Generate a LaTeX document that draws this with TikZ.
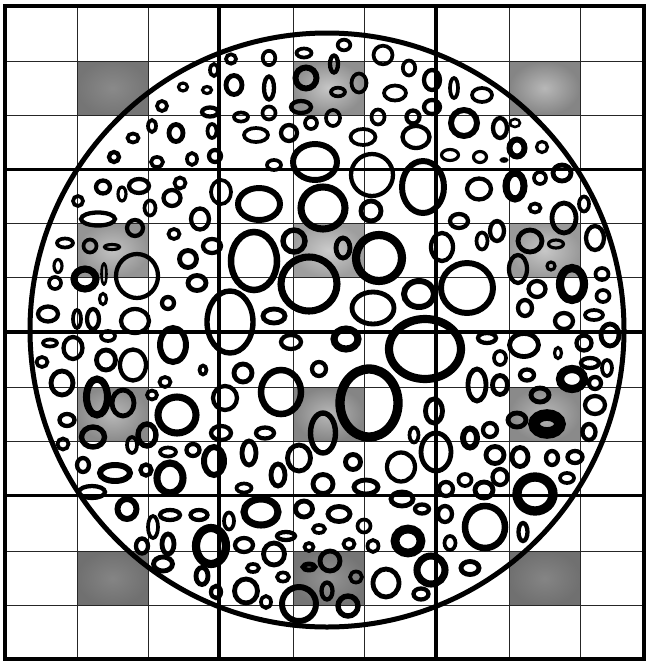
\documentclass[tikz,border=0pt]{standalone}
\begin{document}
\newcommand\elp[5]{\draw[line width=1.12*#5pt+0.35pt] (#1,#2) ellipse [x radius=#3pt, y radius=#4pt];}
\newcommand\cellshade[6]{\shade[inner color=black!#5, outer color=black!#6] (#1,#2) rectangle (#3,#4);}
\begin{tikzpicture}[x=1pt,y=-1pt]
\useasboundingbox (0,0) rectangle (648,662);
\fill[white] (0,0) rectangle (648,662);
% shaded cells
\cellshade{77}{61}{148}{115}{46}{54}
\cellshade{293}{61}{364}{115}{22}{44}
\cellshade{509}{61}{580}{115}{28}{48}
\cellshade{77}{223.5}{148}{277.5}{24}{42}
\cellshade{293}{223.5}{364}{277.5}{20}{38}
\cellshade{509}{223.5}{580}{277.5}{22}{40}
\cellshade{77}{387}{148}{441.5}{28}{46}
\cellshade{293}{387}{364}{441.5}{28}{48}
\cellshade{509}{387}{580}{441.5}{28}{46}
\cellshade{77}{551}{148}{605.5}{48}{56}
\cellshade{293}{551}{364}{605.5}{42}{54}
\cellshade{509}{551}{580}{605.5}{48}{56}
% thin grid
\begin{scope}[line width=1pt, black!85]
\foreach \gx in {77,148,293,364,509,580} \draw (\gx,5.5) -- (\gx,659);
\foreach \gy in {61,115,223.5,277.5,387,441.5,551,605.5} \draw (5,\gy) -- (644,\gy);
\end{scope}
% thick grid
\begin{scope}[line width=3.2pt]
\foreach \gx in {219,436} \draw (\gx,5.5) -- (\gx,659);
\foreach \gy in {169.5,332,495.5} \draw (5,\gy) -- (644,\gy);
\end{scope}
\draw[line width=4pt] (5,5.5) rectangle (644,659);
% big circle
\draw[line width=5pt] (327,330) circle [radius=297pt];
% ellipses: x, y, rx, ry, line width
\elp{183}{87}{4.5}{4}{2.5}
\elp{207}{90}{4.5}{3.5}{2.5}
\elp{214}{70}{4}{6}{3}
\elp{162}{106}{5}{5}{3}
\elp{210}{112}{8}{4.5}{3.5}
\elp{152}{126}{4}{6}{3}
\elp{176}{133}{7}{8.5}{4}
\elp{133}{138}{5.5}{4.5}{3}
\elp{212}{131}{4.5}{7}{3}
\elp{114}{157}{5}{5}{3.5}
\elp{157}{162}{6}{5}{3}
\elp{192}{159}{5}{6}{3}
\elp{215}{156}{6}{6}{3.5}
\elp{231}{59}{5}{4.7}{3}
\elp{269}{58}{6.3}{7.2}{3}
\elp{304}{53}{7.5}{4.5}{3}
\elp{344}{45}{6.3}{5.3}{3}
\elp{334}{64}{4}{8.5}{3.5}
\elp{383}{55}{9.5}{9.3}{3}
\elp{409}{68}{6.2}{7.5}{3}
\elp{432}{80}{8}{10}{3.5}
\elp{234}{85}{8}{9.5}{4}
\elp{269}{88}{5}{11.5}{3.5}
\elp{306}{78}{10.5}{10.5}{5}
\elp{338}{92}{7}{4.3}{3}
\elp{359}{83}{7.5}{9.5}{3}
\elp{395}{93}{11}{7.5}{3}
\elp{301}{107}{10}{6}{3.5}
\elp{432}{107}{8}{7}{3.5}
\elp{241}{117}{7}{4.5}{3}
\elp{269}{113}{6.5}{6.5}{3}
\elp{333}{118}{7}{8}{3}
\elp{311}{123}{6}{6}{3}
\elp{378}{117}{6.5}{7.5}{3}
\elp{413}{117}{6.5}{6.5}{3.5}
\elp{256}{135}{12}{7}{3}
\elp{289}{133}{8}{8}{3.5}
\elp{363}{137}{12.5}{8}{3}
\elp{416}{137}{13.5}{11}{3.5}
\elp{274}{165}{7}{5}{3}
\elp{454}{88}{4}{10}{3}
\elp{482}{95}{10}{7}{3}
\elp{464}{123}{13}{13}{5}
\elp{500}{128}{7}{10}{3.5}
\elp{515}{123}{5}{4}{2}
\elp{517}{148}{7.5}{8.5}{5}
\elp{542}{147}{5.5}{5.5}{2.5}
\elp{450}{155}{8.5}{5.5}{2.5}
\elp{480}{157}{6.5}{5.5}{2.5}
\elp{504}{160}{3}{1.5}{2}
\elp{78}{201}{5}{5}{3}
\elp{103}{187}{7}{6.5}{3.5}
\elp{122}{194}{4}{7}{2.5}
\elp{139}{186}{10}{7}{3.5}
\elp{150}{208}{5.5}{7.5}{3}
\elp{172}{198}{8.5}{8}{3.5}
\elp{180}{183}{5.5}{5.5}{3}
\elp{98}{219}{17}{6.5}{3.5}
\elp{135}{228}{8}{8}{3.5}
\elp{200}{219}{9}{10.5}{3.5}
\elp{174}{234}{5.5}{5}{3}
\elp{65}{243}{8}{4.5}{3}
\elp{90}{246}{6.5}{6.5}{3}
\elp{112}{247}{7.5}{2.5}{2.5}
\elp{212}{246}{9}{7}{3.5}
\elp{188}{259}{8.5}{8.5}{4}
\elp{58}{266}{4}{6.5}{2.5}
\elp{85}{279}{11}{10}{6}
\elp{104}{274}{2.5}{10.5}{2}
\elp{137}{276}{21}{22}{3.5}
\elp{55}{283}{6}{6}{3}
\elp{197}{283}{9}{7.5}{4}
\elp{103}{299}{3.5}{5.5}{2.5}
\elp{168}{303}{6}{6}{3.5}
\elp{48}{314}{10}{7.5}{3.5}
\elp{77}{319}{4}{9}{3}
\elp{93}{319}{6}{10}{3.5}
\elp{135}{321}{14}{12}{3.5}
\elp{230}{322}{23}{31}{4.5}
\elp{221}{192}{10}{12}{3}
\elp{259}{204}{21}{16}{5}
\elp{323}{208}{22}{21}{6}
\elp{315}{162}{22}{18}{5}
\elp{372}{175}{21}{21}{3.5}
\elp{371}{211}{10}{10}{4}
\elp{423}{187}{21}{26}{5}
\elp{294}{241}{11}{11}{4.5}
\elp{343}{248}{7}{10}{4}
\elp{254}{261}{23}{29}{5.5}
\elp{379}{258}{23}{23}{7}
\elp{442}{247}{11}{14}{3.5}
\elp{309}{284}{28}{27}{6}
\elp{373}{308}{21}{16}{4}
\elp{419}{294}{15}{13}{5}
\elp{274}{316}{11}{7}{4}
\elp{346}{339}{12}{10}{6}
\elp{425}{349}{36}{30}{7}
\elp{479}{189}{12}{10.5}{3.5}
\elp{515}{186}{9}{13}{6}
\elp{540}{178}{6}{6}{3}
\elp{562}{173}{9}{8}{4}
\elp{584}{204}{5}{7.5}{3}
\elp{535}{208}{5.5}{4.5}{3}
\elp{564}{218}{12}{15}{4}
\elp{459}{221}{9}{7}{3.5}
\elp{482}{241}{5.5}{8.5}{3}
\elp{497}{231}{7}{10}{3.5}
\elp{530}{241}{12}{11}{4}
\elp{556}{244}{7.5}{4}{2.5}
\elp{595}{238}{9}{12}{3.5}
\elp{518}{269}{9}{14}{3.5}
\elp{551}{266}{4}{4}{2.5}
\elp{572}{284}{12}{16}{7}
\elp{467}{288}{26}{25}{5}
\elp{602}{274}{6.5}{6}{3}
\elp{537}{289}{8.5}{8}{3.5}
\elp{603}{296}{6.5}{6}{3}
\elp{525}{308}{7}{8}{3.5}
\elp{594}{315}{9}{5}{3}
\elp{564}{321}{9}{8}{3.5}
\elp{610}{335}{9}{11}{4}
\elp{50}{343}{7}{3.5}{3}
\elp{73}{348}{9.5}{11}{3.5}
\elp{108}{336}{7}{5}{3}
\elp{42}{362}{5.5}{5}{3}
\elp{106}{360}{9.5}{10}{4}
\elp{133}{365}{13}{15.5}{3.5}
\elp{62}{383}{11}{12}{4}
\elp{173}{345}{13}{17}{5}
\elp{203}{370}{3.5}{4.5}{3}
\elp{165}{382}{5.5}{5}{3}
\elp{97}{397}{10.5}{18}{6}
\elp{123}{403}{11}{13}{4}
\elp{152}{395}{5}{4.5}{3}
\elp{177}{415}{19}{18}{6}
\elp{225}{398}{12}{12}{3.5}
\elp{67}{420}{7.5}{6}{3.5}
\elp{93}{437}{11.5}{10}{4.5}
\elp{132}{445}{5}{8}{3}
\elp{147}{435}{9}{11}{4.5}
\elp{63}{444}{5.5}{5.5}{3}
\elp{168}{452}{8}{4.5}{3}
\elp{193}{450}{6.5}{6}{3.5}
\elp{83}{465}{6}{7}{3.5}
\elp{115}{473}{15}{8}{5}
\elp{146}{470}{5.5}{5.5}{3.5}
\elp{170}{478}{13}{15}{6}
\elp{214}{461}{10}{14}{5}
\elp{92}{492}{13}{6}{3.5}
\elp{291}{342}{10}{7}{3.5}
\elp{243}{373}{9}{9}{4}
\elp{319}{369}{7}{7}{3.5}
\elp{281}{392}{20}{22}{5.5}
\elp{323}{433}{12.5}{20}{4.5}
\elp{369}{403}{29}{34}{8}
\elp{434}{411}{8.5}{12}{4}
\elp{221}{433}{10}{7}{3.5}
\elp{265}{433}{9}{5.5}{3.5}
\elp{414}{435}{4.5}{7.5}{3}
\elp{436}{452}{15}{19}{4}
\elp{249}{453}{7}{12}{4}
\elp{299}{458}{11.5}{13}{4}
\elp{353}{462}{7.5}{7.5}{4}
\elp{401}{467}{14}{14.5}{3.5}
\elp{278}{475}{7}{11}{4}
\elp{244}{488}{7.5}{4.5}{3}
\elp{323}{484}{10}{9.5}{4}
\elp{366}{487}{12}{7}{4}
\elp{402}{499}{11}{7}{4}
\elp{487}{338}{9}{5}{3.5}
\elp{524}{345}{14.5}{11.5}{4}
\elp{558}{353}{3.5}{5.5}{2.5}
\elp{584}{343}{7.5}{7.5}{3.5}
\elp{500}{358}{6}{7}{3}
\elp{590}{363}{9}{5}{3.5}
\elp{607}{368}{5}{8}{3}
\elp{477}{385}{9}{16}{4}
\elp{500}{385}{7.5}{9.5}{4}
\elp{527}{375}{7}{5.5}{3.5}
\elp{572}{379}{12}{10}{7}
\elp{595}{383}{6}{6}{3.5}
\elp{540}{395}{9}{7}{4}
\elp{595}{405}{10}{9}{3.5}
\elp{517}{420}{9}{7}{4}
\elp{547}{424}{13}{9}{10}
\elp{589}{432}{6.5}{8}{3.5}
\elp{470}{438}{7}{9.5}{5}
\elp{490}{430}{7}{7}{3.5}
\elp{495}{455}{9}{8.5}{4}
\elp{520}{457}{8}{9.5}{4}
\elp{552}{458}{6}{7}{3.5}
\elp{575}{457}{7.5}{6}{3.5}
\elp{465}{480}{6.5}{6}{3}
\elp{500}{477}{7.5}{8}{3.5}
\elp{567}{478}{7}{5}{3}
\elp{446}{489}{7}{7}{3.5}
\elp{484}{490}{9}{8}{4}
\elp{535}{494}{18}{17}{8}
\elp{127}{509}{9.5}{10}{5}
\elp{153}{527}{5}{11}{3}
\elp{170}{515}{10}{5}{3.5}
\elp{199}{515}{8.5}{5}{3.5}
\elp{211}{546}{15}{18}{7}
\elp{142}{546}{6}{7.5}{3.5}
\elp{168}{544}{6}{10}{4}
\elp{163}{564}{9.5}{7}{4}
\elp{202}{576}{6}{8.5}{4}
\elp{216}{592}{5}{6}{3.5}
\elp{229}{521}{5}{8.5}{3}
\elp{261}{512}{17}{13}{6}
\elp{304}{509}{8.5}{8}{4}
\elp{339}{514}{11}{7.5}{4}
\elp{364}{526}{6.5}{6.5}{3}
\elp{422}{509}{7}{4.5}{3.5}
\elp{319}{529}{6}{4}{3}
\elp{286}{536}{9}{4}{3.5}
\elp{244}{545}{9}{7}{3.5}
\elp{274}{554}{10.5}{11}{4}
\elp{309}{547}{4.5}{4}{3}
\elp{349}{544}{5.5}{5}{3}
\elp{373}{546}{5.5}{6}{3}
\elp{408}{541}{13}{12}{7.5}
\elp{330}{561}{10}{10}{4}
\elp{309}{567}{6}{3}{4}
\elp{253}{568}{6}{4}{3}
\elp{283}{577}{6}{4.5}{3}
\elp{356}{577}{6}{5.5}{3}
\elp{386}{583}{13}{14}{4}
\elp{246}{591}{11.5}{12}{4}
\elp{327}{591}{5.5}{8.5}{3.5}
\elp{299}{604}{17}{17}{5}
\elp{266}{602}{5}{6}{3}
\elp{348}{606}{10}{10}{4.5}
\elp{421}{594}{7.5}{5.5}{3.5}
\elp{431}{570}{14}{14}{6}
\elp{445}{514}{7}{8}{3.5}
\elp{485}{527}{20}{21}{5.5}
\elp{523}{532}{4.5}{9}{3.5}
\elp{450}{543}{5.5}{7}{3}
\elp{470}{568}{9}{6.5}{4}
\end{tikzpicture}
\end{document}
